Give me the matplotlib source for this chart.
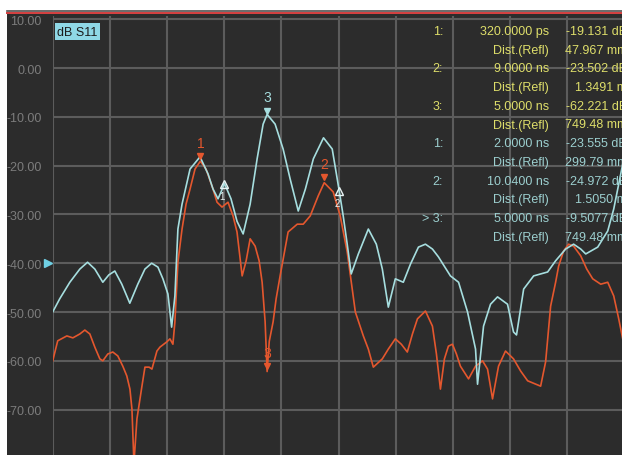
import matplotlib
matplotlib.use('Agg')
import matplotlib.pyplot as plt
import matplotlib.transforms as mtransforms
import numpy as np

plt.rcParams['font.family'] = ['Liberation Sans', 'DejaVu Sans']

# S11 time-domain traces: time in ns, magnitude in dB
cyan_t = [-10.02, -9.53, -8.82, -8.12, -7.58, -7.07, -6.51, -6.09, -5.67, -5.18,
          -4.62, -4.06, -3.56, -3.09, -2.65, -2.30, -1.95, -1.69, -1.46, -1.25,
          -0.96, -0.40, 0.30, 0.86, 1.21, 1.56, 1.80, 2.00, 2.47, 2.89,
          3.32, 3.81, 4.30, 4.72, 5.00, 5.56, 6.12, 6.61, 7.18, 7.68,
          8.24, 8.95, 9.56, 10.04, 10.33, 10.61, 10.89, 11.39, 12.09, 12.65,
          13.07, 13.49, 13.98, 14.54, 15.04, 15.60, 16.09, 16.58, 17.00, 17.84,
          18.41, 19.04, 19.60, 19.74, 20.16, 20.65, 21.14, 21.84, 22.26, 22.47,
          22.97, 23.67, 24.65, 25.21, 25.91, 26.47, 26.97, 27.32, 28.16, 28.86,
          29.28, 29.91]
cyan_db = [-50.0, -47.3, -43.9, -41.2, -39.8, -41.2, -43.9, -42.4, -41.6, -44.3,
           -48.2, -44.3, -41.2, -40.0, -40.8, -43.2, -46.3, -53.1, -46.7, -33.0,
           -27.9, -20.7, -18.2, -21.7, -24.8, -26.8, -25.2, -23.6, -26.8, -31.4,
           -34.0, -27.9, -18.6, -11.5, -9.5, -11.5, -16.6, -22.7, -29.3, -24.8,
           -18.6, -14.3, -16.6, -25.0, -30.3, -36.1, -42.2, -38.1, -33.0, -36.1,
           -41.2, -49.0, -43.2, -43.9, -40.2, -36.7, -36.1, -37.1, -38.7, -42.6,
           -43.9, -50.0, -57.6, -64.8, -52.9, -48.4, -46.9, -48.4, -54.1, -54.7,
           -45.3, -42.6, -41.8, -39.5, -37.1, -36.1, -37.1, -38.1, -36.7, -33.4,
           -28.9, -19.7]

red_t = [-10.02, -9.67, -9.03, -8.61, -8.12, -7.77, -7.42, -7.07, -6.72, -6.51,
         -6.16, -5.81, -5.46, -5.11, -4.83, -4.61, -4.47, -4.33, -4.12, -3.77,
         -3.56, -3.27, -3.07, -2.72, -2.51, -2.02, -1.81, -1.60, -1.46, -1.25,
         -0.96, -0.68, -0.40, -0.05, 0.32, 0.72, 1.21, 1.49, 1.84, 2.26,
         2.61, 2.89, 3.25, 3.53, 3.81, 4.16, 4.44, 4.65, 4.86, 5.00,
         5.15, 5.42, 5.63, 5.91, 6.19, 6.47, 7.11, 7.53, 8.02, 8.58,
         9.00, 9.63, 10.12, 10.61, 11.18, 11.74, 12.09, 12.44, 13.07, 13.49,
         13.98, 14.40, 14.82, 15.18, 15.53, 16.09, 16.58, 16.86, 17.14, 17.42,
         17.70, 17.98, 18.26, 18.54, 19.11, 19.60, 20.09, 20.44, 20.79, 21.21,
         21.70, 22.26, 22.76, 23.25, 24.16, 24.51, 24.86, 25.21, 25.42, 25.77,
         26.12, 26.47, 26.97, 27.39, 27.81, 28.37, 28.86, 29.28, 29.63, 29.91]
red_db = [-60.0, -55.9, -54.9, -55.3, -54.5, -53.7, -54.5, -57.2, -59.6, -60.0,
          -58.6, -58.2, -59.0, -61.1, -63.1, -65.8, -69.9, -81.0, -71.9, -65.2,
          -61.3, -61.3, -61.7, -58.0, -57.2, -56.1, -55.5, -56.6, -52.0, -39.8,
          -33.0, -27.9, -24.8, -20.7, -19.1, -20.7, -24.8, -27.5, -28.5, -27.5,
          -30.3, -33.6, -42.6, -39.5, -35.0, -36.5, -39.5, -43.9, -52.0, -62.2,
          -56.0, -52.0, -47.3, -42.6, -38.1, -33.6, -32.0, -32.0, -30.3, -26.2,
          -23.5, -25.4, -30.3, -37.7, -50.0, -54.9, -57.6, -61.3, -59.6, -57.6,
          -55.5, -56.6, -58.2, -54.5, -51.4, -49.8, -52.9, -58.6, -65.8, -59.6,
          -57.0, -56.6, -58.6, -61.1, -63.7, -61.1, -60.0, -61.7, -67.8, -61.1,
          -58.0, -59.6, -62.1, -64.1, -65.2, -60.2, -48.8, -43.9, -40.6, -37.5,
          -36.1, -36.5, -38.5, -41.2, -43.2, -44.3, -43.9, -46.7, -51.4, -55.5]

# marker readouts (number, time in ns, dB)
red_marks = [('1', 0.32, -19.131), ('2', 9.0, -23.502), ('3', 5.0, -62.221)]
cyan_marks = [('1', 2.0, -23.555), ('2', 10.04, -24.972), ('3', 5.0, -9.5077)]

readout_rows = [
    ('1:', '320.0000 ps', '-19.131 dB'),
    ('', 'Dist.(Refl)', '47.967 mm'),
    ('2:', '9.0000 ns', '-23.502 dB'),
    ('', 'Dist.(Refl)', '1.3491 m'),
    ('3:', '5.0000 ns', '-62.221 dB'),
    ('', 'Dist.(Refl)', '749.48 mm'),
    ('1:', '2.0000 ns', '-23.555 dB'),
    ('', 'Dist.(Refl)', '299.79 mm'),
    ('2:', '10.0400 ns', '-24.972 dB'),
    ('', 'Dist.(Refl)', '1.5050 m'),
    ('> 3:', '5.0000 ns', '-9.5077 dB'),
    ('', 'Dist.(Refl)', '749.48 mm'),
]

y_ticks = [10, 0, -10, -20, -30, -40, -50, -60, -70, -80]
ref_level = -40

BG = '#2c2c2c'
GRID = '#5c5c5c'
RED = '#e4572e'
CYAN = '#a6dedf'
YELLOW = '#dede6a'
TEXTCYAN = '#9ccfcf'
FS = 9.0

W, H = 622, 456
fig = plt.figure(figsize=(W / 100, H / 100), dpi=100)
fig.patch.set_facecolor('white')

def fx(px):
    return px / W

def fy(py):
    return 1 - py / H

# instrument panel background and header stripes
fig.patches.append(plt.Rectangle((fx(7), 0), 1, fy(15), transform=fig.transFigure,
                                 facecolor=BG, edgecolor='none', zorder=-5))
fig.lines.append(plt.Line2D([fx(7), 1], [fy(11.5)] * 2, transform=fig.transFigure,
                            color='#505050', lw=1.2, zorder=-4))
fig.lines.append(plt.Line2D([fx(7), 1], [fy(13.8)] * 2, transform=fig.transFigure,
                            color='#d23c3c', lw=1.4, zorder=-4))

top_px = 17.0
bot_px = 459.4
ax = fig.add_axes([fx(53), fy(bot_px), fx(571), (bot_px - top_px) / H])
ax.set_zorder(1)
ax.set_facecolor(BG)
ax.set_xlim(-10, 30)
ax.set_ylim(-80, 10.66)
ax.set_xticks(np.arange(-10, 31, 4))
ax.set_yticks(y_ticks)
ax.set_yticklabels(['%.2f' % v for v in y_ticks])
ax.tick_params(axis='both', length=0)
ax.tick_params(axis='x', labelbottom=False)
ax.tick_params(axis='y', pad=8, labelsize=FS, labelcolor='#7c7c7c')
ax.grid(True, color=GRID, lw=1.5)
ax.set_axisbelow(True)
for s in ax.spines.values():
    s.set_visible(False)

ax.plot(red_t, red_db, color=RED, lw=1.2, zorder=3, solid_joinstyle='round')
ax.plot(cyan_t, cyan_db, color=CYAN, lw=1.2, zorder=4, solid_joinstyle='round')

# markers on the red trace
for num, t, db in red_marks:
    ax.plot(t, db + 1.1, marker='v', ms=5, color=RED, zorder=5)
    ax.text(t, db + 2.4, num, color=RED, fontsize=10, ha='center', va='bottom', zorder=5)

# markers on the cyan trace
for num, t, db in cyan_marks:
    if num == '3':
        ax.plot(t, db + 0.8, marker='v', ms=5, color=CYAN, zorder=5)
        ax.text(t, db + 2.2, num, color=CYAN, fontsize=10, ha='center', va='bottom', zorder=5)
    else:
        ax.plot(t, db - 0.2, marker='^', ms=6, mfc='none', mec='#e8f4f4', mew=1.0, zorder=5)
        ax.text(t - 0.15, db - 1.6, num, color='#e8f4f4', fontsize=7, ha='center',
                va='top', zorder=5)

# reference level arrow at the left edge
trans = mtransforms.blended_transform_factory(ax.transAxes, ax.transData)
ax.plot(-0.008, ref_level, marker='>', ms=6, color='#6fd0e4', transform=trans,
        clip_on=False, zorder=6)

# trace title box
fig.text(fx(57), fy(32.5), 'dB S11', color='#1c1c1c', fontsize=FS, ha='left', va='center',
         zorder=10,
         bbox=dict(boxstyle='square,pad=0.2', facecolor='#8fd8e6', edgecolor='none'))

# marker readout table
for i, (lab, tcol, vcol) in enumerate(readout_rows):
    col = YELLOW if i < 6 else TEXTCYAN
    y = fy(32 + i * 18.7)
    if lab:
        fig.text(fx(443), y, lab, color=col, fontsize=FS, ha='right', va='center', zorder=10)
    fig.text(fx(549), y, tcol, color=col, fontsize=FS, ha='right', va='center', zorder=10)
    fig.text(fx(627), y, vcol, color=col, fontsize=FS, ha='right', va='center', zorder=10)

fig.savefig('out.png', dpi=100, facecolor=fig.get_facecolor())
